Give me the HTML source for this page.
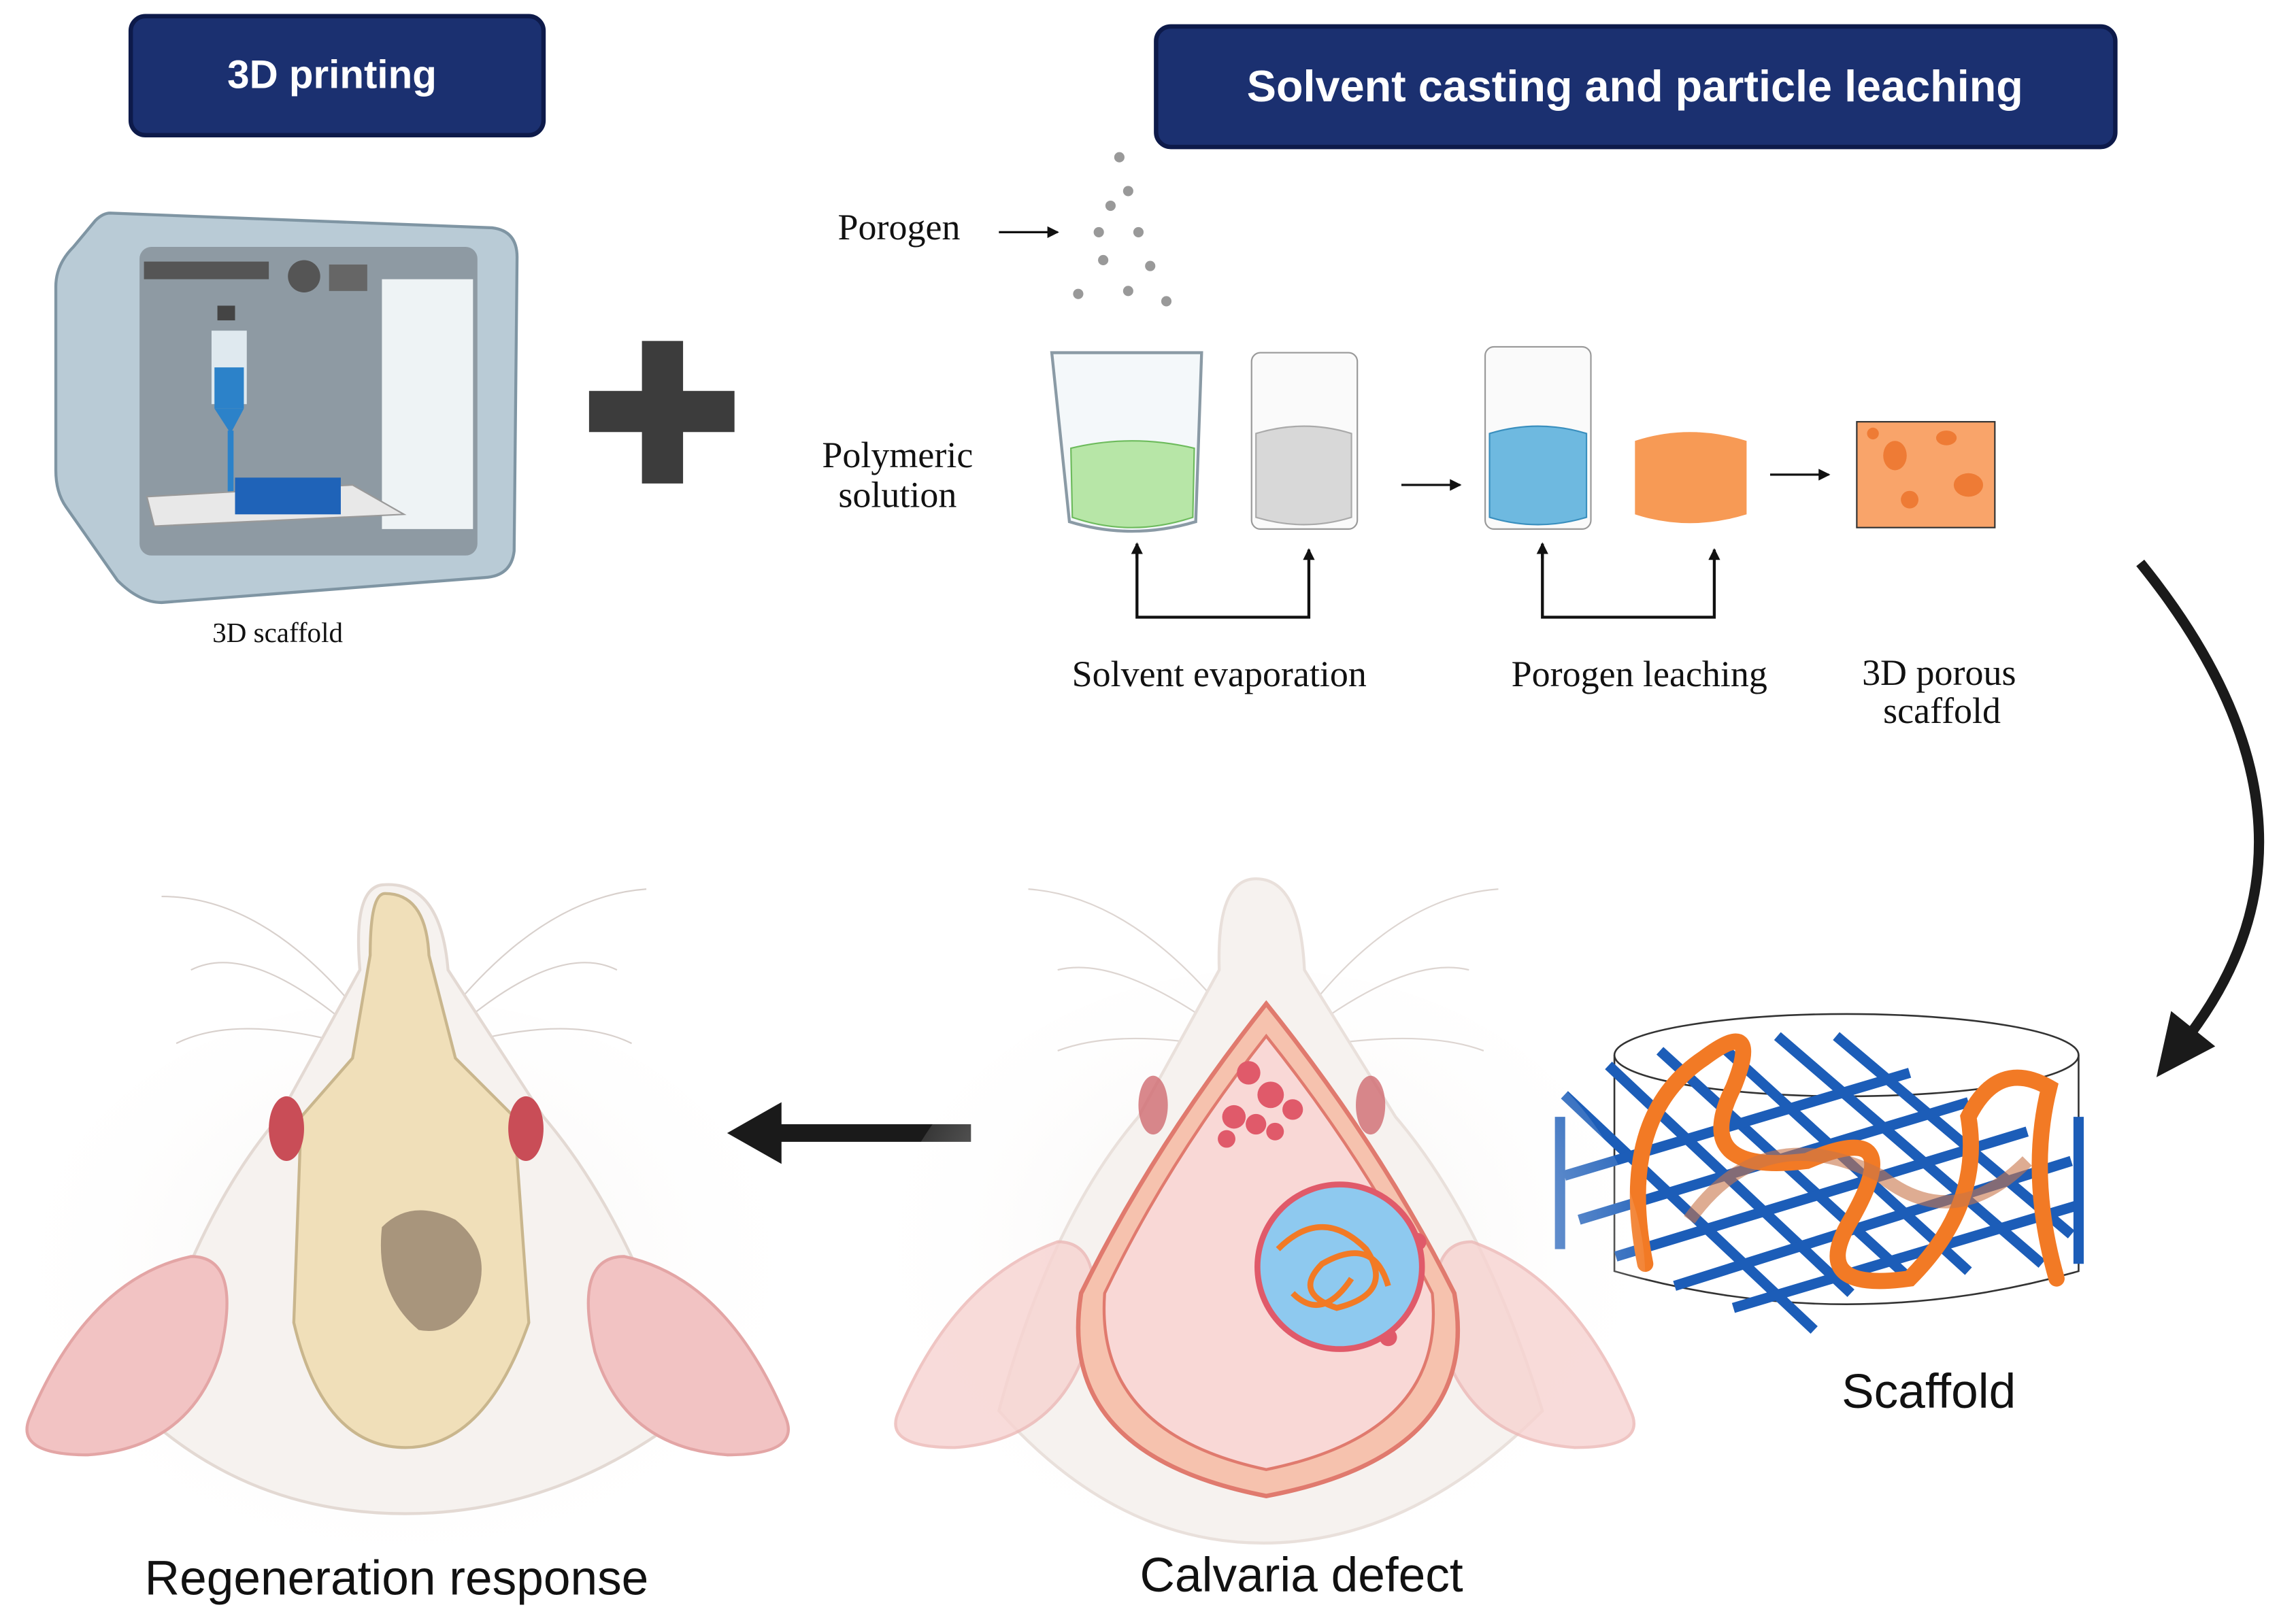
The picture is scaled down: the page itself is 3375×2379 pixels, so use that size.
<!DOCTYPE html>
<html><head><meta charset="utf-8"><style>
html,body{margin:0;padding:0;background:#fff;width:3375px;height:2379px;overflow:hidden}
svg{display:block}
.serif{font-family:"Liberation Serif",serif;fill:#111}
.sans{font-family:"Liberation Sans",sans-serif;fill:#111}
</style></head><body>
<svg width="3375" height="2379" viewBox="0 0 1563 1101" preserveAspectRatio="none" xmlns="http://www.w3.org/2000/svg">
<defs>
<marker id="ah" markerWidth="8" markerHeight="8" refX="7" refY="4" orient="auto" markerUnits="userSpaceOnUse"><path d="M0,0 L8,4 L0,8z" fill="#111"/></marker>
<radialGradient id="fade" cx="50%" cy="45%" r="55%"><stop offset="0" stop-color="#f4f0ee"/><stop offset="1" stop-color="#fff" stop-opacity="0"/></radialGradient>
</defs>
<rect x="89" y="11" width="281" height="81" rx="10" fill="#1b3070" stroke="#0d1a4a" stroke-width="3"/>
<text x="226" y="60" text-anchor="middle" font-family="Liberation Sans,sans-serif" font-weight="bold" font-size="27" fill="#fff">3D printing</text>
<rect x="787" y="18" width="653" height="82" rx="10" fill="#1b3070" stroke="#0d1a4a" stroke-width="3"/>
<text x="1113" y="69" text-anchor="middle" font-family="Liberation Sans,sans-serif" font-weight="bold" font-size="30" fill="#fff">Solvent casting and particle leaching</text>
<!-- printer -->
<path d="M75,145 L335,155 Q352,157 352,175 L350,375 Q348,392 330,393 L110,410 Q95,410 80,395 L45,345 Q38,335 38,320 L38,195 Q38,180 50,168 L65,150 Q70,145 75,145Z" fill="#b9cbd6" stroke="#7f95a3" stroke-width="2"/>
<rect x="95" y="168" width="230" height="210" rx="8" fill="#8e9aa3"/>
<rect x="260" y="190" width="62" height="170" fill="#eef3f5"/>
<rect x="98" y="178" width="85" height="12" fill="#555"/>
<circle cx="207" cy="188" r="11" fill="#555"/>
<rect x="224" y="180" width="26" height="18" fill="#666"/>
<rect x="148" y="208" width="12" height="10" fill="#444"/>
<rect x="144" y="225" width="24" height="50" fill="#dfe9ef"/>
<rect x="146" y="250" width="20" height="28" fill="#2c82c9"/>
<path d="M146,278 L166,278 L157,295z" fill="#2c82c9"/>
<rect x="155" y="293" width="4" height="45" fill="#2c82c9"/>
<path d="M100,338 L240,330 L275,350 L105,358z" fill="#e8e8e8" stroke="#999"/>
<rect x="160" y="325" width="72" height="25" fill="#1f63b8"/>
<text x="189" y="437" class="serif" font-size="19" text-anchor="middle">3D scaffold</text>
<rect x="437" y="232" width="28" height="97" fill="#3c3c3c"/>
<rect x="401" y="266" width="99" height="28" fill="#3c3c3c"/>
<text x="612" y="163" class="serif" font-size="25" text-anchor="middle">Porogen</text>
<line x1="680" y1="158" x2="720" y2="158" stroke="#111" stroke-width="1.5" marker-end="url(#ah)"/>
<g fill="#999"><circle cx="762" cy="107" r="3.5"/><circle cx="768" cy="130" r="3.5"/><circle cx="756" cy="140" r="3.5"/><circle cx="748" cy="158" r="3.5"/><circle cx="775" cy="158" r="3.5"/><circle cx="751" cy="177" r="3.5"/><circle cx="783" cy="181" r="3.5"/><circle cx="734" cy="200" r="3.5"/><circle cx="768" cy="198" r="3.5"/><circle cx="794" cy="205" r="3.5"/></g>
<text x="611" y="318" class="serif" font-size="25" text-anchor="middle">Polymeric</text>
<text x="611" y="345" class="serif" font-size="25" text-anchor="middle">solution</text>
<path d="M716,240 L818,240 L814,355 Q770,368 728,355 Z" fill="#f4f8fa" stroke="#8a9aa5" stroke-width="2"/>
<path d="M729,305 Q770,295 813,305 L812,352 Q770,366 730,352Z" fill="#b7e6a7" stroke="#6dbb5c"/>
<rect x="852" y="240" width="72" height="120" rx="6" fill="#fafafa" stroke="#999"/>
<path d="M855,295 Q888,285 920,295 L920,352 Q888,362 855,352Z" fill="#d8d8d8" stroke="#aaa"/>
<line x1="954" y1="330" x2="994" y2="330" stroke="#111" stroke-width="1.5" marker-end="url(#ah)"/>
<rect x="1011" y="236" width="72" height="124" rx="6" fill="#fafafa" stroke="#999"/>
<path d="M1014,295 Q1047,285 1080,295 L1080,352 Q1047,362 1014,352Z" fill="#6eb9e0" stroke="#3a8fbe"/>
<path d="M1113,300 Q1150,288 1189,300 L1189,350 Q1150,362 1113,350Z" fill="#f79a55"/>
<line x1="1205" y1="323" x2="1245" y2="323" stroke="#111" stroke-width="1.5" marker-end="url(#ah)"/>
<rect x="1264" y="287" width="94" height="72" fill="#f9a46a" stroke="#333"/>
<g fill="#ee7b35"><ellipse cx="1290" cy="310" rx="8" ry="10"/><ellipse cx="1325" cy="298" rx="7" ry="5"/><ellipse cx="1340" cy="330" rx="10" ry="8"/><ellipse cx="1300" cy="340" rx="6" ry="6"/><ellipse cx="1275" cy="295" rx="4" ry="4"/></g>
<g fill="none" stroke="#111" stroke-width="2">
<path d="M774,372 L774,420 L891,420 L891,374" marker-end="url(#ah)"/>
<path d="M1050,372 L1050,420 L1167,420 L1167,374" marker-end="url(#ah)"/>
</g>
<line x1="774" y1="380" x2="774" y2="370" stroke="#111" stroke-width="2" marker-end="url(#ah)"/>
<line x1="1050" y1="380" x2="1050" y2="370" stroke="#111" stroke-width="2" marker-end="url(#ah)"/>
<text x="830" y="467" class="serif" font-size="25" text-anchor="middle">Solvent evaporation</text>
<text x="1116" y="467" class="serif" font-size="25" text-anchor="middle">Porogen leaching</text>
<text x="1320" y="466" class="serif" font-size="25" text-anchor="middle">3D porous</text>
<text x="1322" y="492" class="serif" font-size="25" text-anchor="middle">scaffold</text>
<path d="M1457,383 Q1600,560 1490,705" fill="none" stroke="#1a1a1a" stroke-width="7"/>
<path d="M1468,733 L1478,688 L1508,712Z" fill="#1a1a1a"/>
<!-- scaffold -->
<ellipse cx="1257" cy="718" rx="158" ry="28" fill="none" stroke="#333" stroke-width="1.2"/>
<path d="M1099,718 L1099,865 Q1257,910 1415,865 L1415,718" fill="none" stroke="#333" stroke-width="1.2"/>
<g stroke="#1c5db8" stroke-width="7">
<line x1="1065" y1="745" x2="1235" y2="905"/><line x1="1095" y1="725" x2="1260" y2="880"/><line x1="1130" y1="715" x2="1300" y2="870"/><line x1="1170" y1="710" x2="1340" y2="865"/><line x1="1210" y1="705" x2="1390" y2="860"/><line x1="1250" y1="705" x2="1410" y2="840"/>
<line x1="1065" y1="800" x2="1300" y2="730"/><line x1="1075" y1="830" x2="1340" y2="750"/><line x1="1100" y1="855" x2="1380" y2="770"/><line x1="1140" y1="875" x2="1410" y2="790"/><line x1="1180" y1="890" x2="1415" y2="820"/>
<line x1="1062" y1="760" x2="1062" y2="850"/><line x1="1415" y1="760" x2="1415" y2="860"/>
</g>
<path d="M1120,860 Q1100,760 1160,720 Q1200,690 1180,740 Q1150,800 1230,790 Q1300,760 1260,830 Q1230,880 1300,870 Q1350,820 1340,760 Q1360,720 1395,740 Q1380,800 1400,870" fill="none" stroke="#f27a25" stroke-width="11" stroke-linecap="round"/>
<path d="M1150,830 Q1200,760 1280,800 Q1330,840 1380,790" fill="none" stroke="#c8744a" stroke-width="9" opacity=".6"/>
<text x="1313" y="958" class="sans" font-size="33" text-anchor="middle">Scaffold</text>
<!-- left arrow -->
<path d="M495,771 L532,750 L532,765 L661,765 L661,777 L532,777 L532,792Z" fill="#1a1a1a"/>
<!-- left rat -->
<ellipse cx="276" cy="880" rx="260" ry="200" fill="url(#fade)"/>
<g stroke="#d8d0cc" stroke-width="1" fill="none">
<path d="M245,690 Q180,610 110,610"/><path d="M240,700 Q170,640 130,660"/><path d="M235,710 Q160,690 120,710"/>
<path d="M305,690 Q370,610 440,605"/><path d="M310,700 Q380,640 420,660"/><path d="M315,710 Q390,690 430,710"/>
</g>
<path d="M262,602 Q300,600 305,660 L370,760 Q430,830 470,960 Q380,1030 276,1030 Q170,1030 95,960 Q130,830 190,760 L245,660 Q240,602 262,602Z" fill="#f6f2ef" stroke="#e3d9d3" stroke-width="2"/>
<path d="M20,965 Q60,870 130,855 Q165,855 150,920 Q130,985 60,990 Q10,990 20,965Z" fill="#f2c3c3" stroke="#e3a5a5" stroke-width="2"/>
<path d="M535,965 Q495,870 425,855 Q390,855 405,920 Q425,985 495,990 Q545,990 535,965Z" fill="#f2c3c3" stroke="#e3a5a5" stroke-width="2"/>
<path d="M262,608 Q290,608 292,650 L310,720 L350,760 L360,900 Q330,985 276,985 Q220,985 200,900 L205,760 L240,720 L252,650 Q252,608 262,608Z" fill="#f0dfb9" stroke="#c9b68d" stroke-width="2"/>
<ellipse cx="195" cy="768" rx="12" ry="22" fill="#c94d57"/>
<ellipse cx="358" cy="768" rx="12" ry="22" fill="#c94d57"/>
<path d="M260,835 Q280,815 310,830 Q335,850 325,880 Q310,910 285,905 Q255,880 260,835Z" fill="#a8957c"/>
<text x="270" y="1085" class="sans" font-size="33" text-anchor="middle">Regeneration response</text>
<!-- middle rat -->
<ellipse cx="860" cy="870" rx="260" ry="210" fill="url(#fade)"/>
<g stroke="#ddd5d1" stroke-width="1" fill="none">
<path d="M835,690 Q770,610 700,605"/><path d="M830,700 Q760,650 720,660"/><path d="M828,712 Q760,700 720,715"/>
<path d="M888,690 Q950,610 1020,605"/><path d="M892,700 Q960,650 1000,660"/><path d="M895,712 Q970,700 1010,715"/>
</g>
<path d="M855,598 Q885,598 888,660 L950,760 Q1010,830 1050,960 Q960,1050 860,1050 Q760,1050 680,960 Q715,830 775,760 L830,660 Q828,598 855,598Z" fill="#f6f2ef" stroke="#e9e0db" stroke-width="2"/>
<path d="M612,960 Q650,870 720,845 Q755,845 740,915 Q720,980 650,985 Q600,985 612,960Z" fill="#f7d3d1" stroke="#ecb7b5" stroke-width="2" opacity=".8"/>
<path d="M1110,960 Q1072,870 1002,845 Q967,845 982,915 Q1002,980 1072,985 Q1122,985 1110,960Z" fill="#f7d3d1" stroke="#ecb7b5" stroke-width="2" opacity=".8"/>
<ellipse cx="785" cy="752" rx="10" ry="20" fill="#d06a70" opacity=".8"/>
<ellipse cx="933" cy="752" rx="10" ry="20" fill="#d06a70" opacity=".8"/>
<path d="M862,683 Q940,780 990,880 Q1010,990 862,1018 Q718,990 736,880 Q785,780 862,683Z" fill="#f6c2ae" stroke="#e07a6e" stroke-width="3"/>
<path d="M862,705 Q930,790 975,880 Q985,975 862,1000 Q745,975 752,880 Q795,790 862,705Z" fill="#f9d8d6" stroke="#e07a6e" stroke-width="2"/>
<g fill="#e05a6a"><circle cx="850" cy="730" r="8"/><circle cx="865" cy="745" r="9"/><circle cx="840" cy="760" r="8"/><circle cx="880" cy="755" r="7"/><circle cx="855" cy="765" r="7"/><circle cx="835" cy="775" r="6"/><circle cx="868" cy="770" r="6"/><circle cx="965" cy="845" r="6"/><circle cx="945" cy="910" r="6"/></g>
<circle cx="912" cy="862" r="56" fill="#8ec9ef" stroke="#e05a6a" stroke-width="4"/>
<path d="M870,850 Q900,820 930,850 Q950,880 910,890 Q880,880 900,860 Q935,840 945,875 M880,880 Q900,900 920,870" fill="none" stroke="#f27a25" stroke-width="4"/>
<text x="886" y="1083" class="sans" font-size="33" text-anchor="middle">Calvaria defect</text>
</svg>
</body></html>
